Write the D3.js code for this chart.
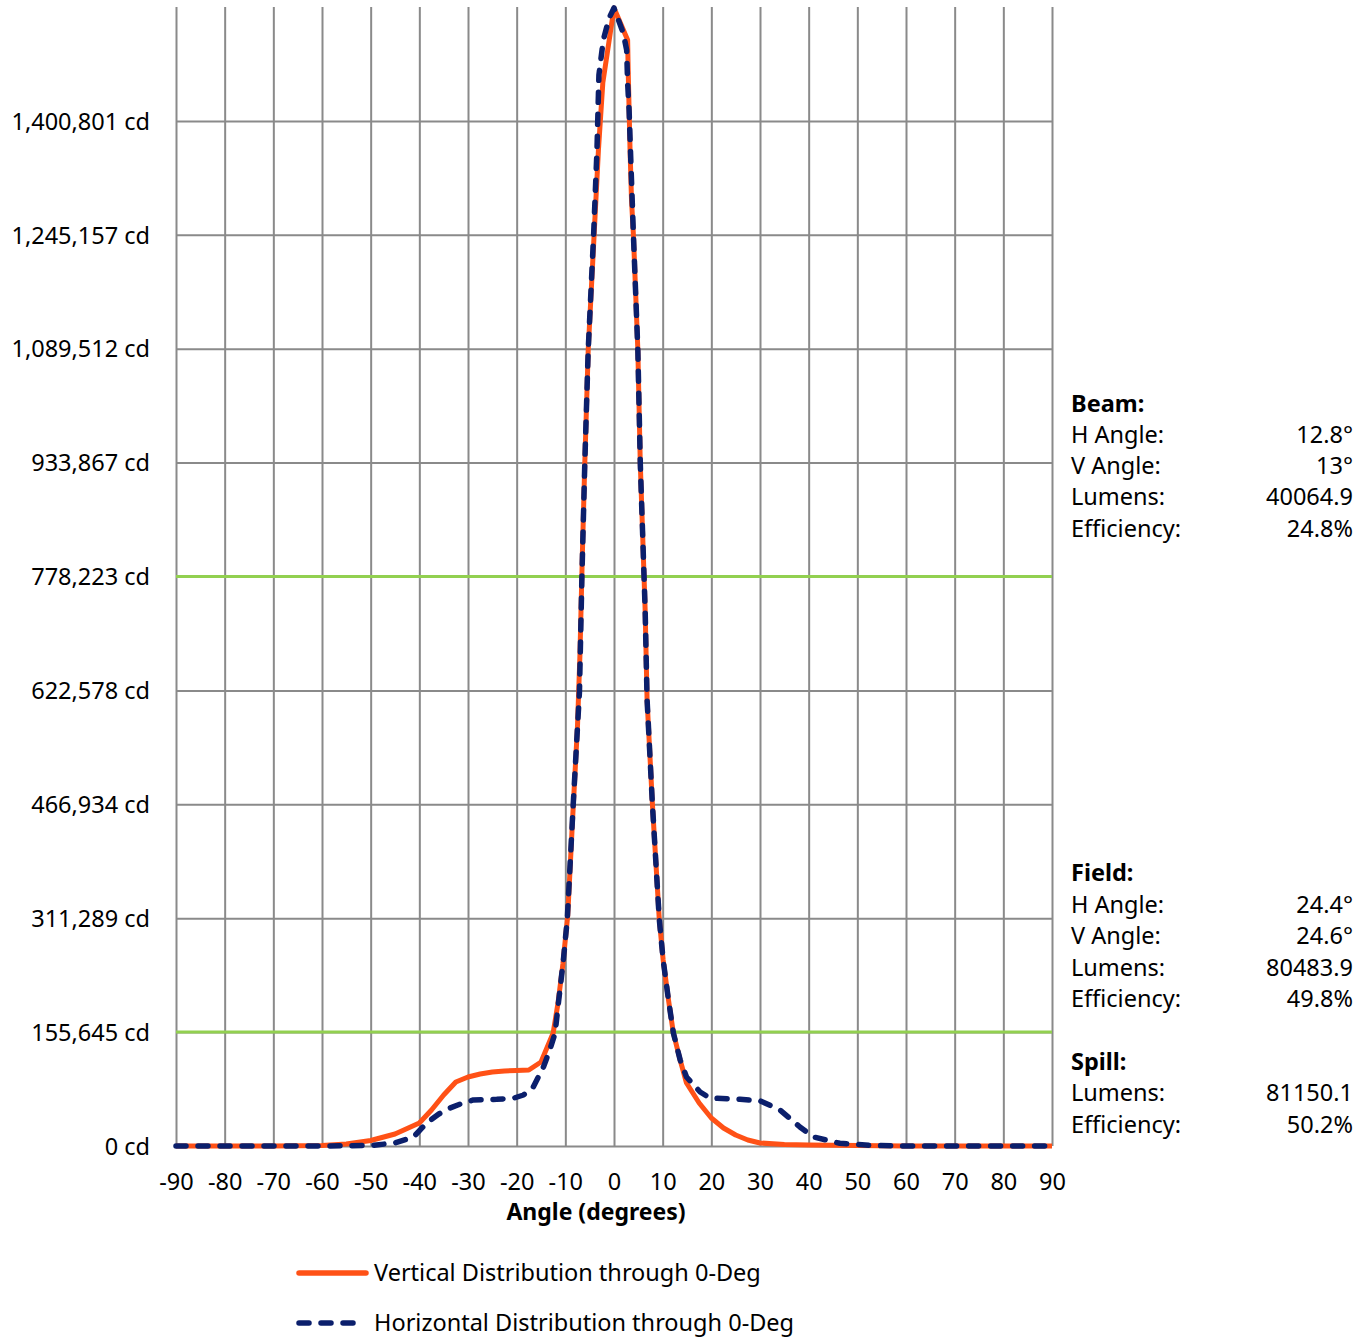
<!DOCTYPE html>
<meta charset="utf-8">
<script src="https://cdn.jsdelivr.net/npm/d3@7"></script>
<style>
  body { margin: 0; background: #fff; }
  text { font-family: "Noto Sans", "Open Sans", sans-serif; fill: #000; }
</style>
<div id="chart"></div>
<script>

// y ticks (cd) and their labels
var yTicks = [0, 155645, 311289, 466934, 622578, 778223, 933867, 1089512, 1245157, 1400801];
var yLabels = ["0 cd", "155,645 cd", "311,289 cd", "466,934 cd", "622,578 cd", "778,223 cd",
               "933,867 cd", "1,089,512 cd", "1,245,157 cd", "1,400,801 cd"];
var yMax = 1556446;
var xTicks = [-90, -80, -70, -60, -50, -40, -30, -20, -10, 0, 10, 20, 30, 40, 50, 60, 70, 80, 90];

// 50% (beam) and 10% (field) levels
var levels = [778223, 155645];

// Vertical Distribution through 0-Deg
var vAngles = [-90, -80, -70, -60, -55, -50, -45, -40, -37.5, -35, -32.5, -30, -27.5, -25, -22.5, -20,
               -17.5, -15, -12.5, -11.5, -10.5, -9.5, -8.5, -7.5, -7, -6.5, -6, -5.3, -4.1, -3.2, -2.3, 0,
               2.8, 2.9, 3.3, 3.6, 4.0, 4.9, 5.4, 6.4, 6.8, 7.9, 9.3, 10.1, 11.2, 12.2, 13.6, 14.9,
               17.5, 20, 22.5, 25, 27.5, 30, 35, 40, 50, 60, 70, 80, 90];
var vValues = [0, 0, 0, 700, 2700, 7500, 16400, 31400, 49200, 69700, 87500, 94300, 98400, 101100, 102500, 103200,
               103900, 114800, 154400, 195400, 248700, 315700, 448200, 574000, 671000, 809000, 933300, 1087700, 1243500, 1361000, 1452600, 1555100,
               1511300, 1474400, 1361000, 1292700, 1243500, 1087700, 933300, 732400, 609500, 466000, 310200, 254200, 199500, 154400, 117500, 86100,
               58800, 38300, 24600, 15000, 8200, 4100, 2000, 1400, 700, 0, 0, 0, 0];

// Horizontal Distribution through 0-Deg
var hAngles = [-90, -80, -70, -60, -50, -45, -41.2, -38.5, -36, -33.7, -31, -28.9, -24.1, -20.7, -18.6, -16.6,
               -14.5, -13.2, -12.1, -11.4, -10.4, -9.6, -8.4, -7.1, -6.6, -6, -5.3, -4.2, -3.5, -3.1, -2.2, -1, 0,
               1.9, 2.6, 2.8, 3.1, 3.5, 4.0, 4.9, 5.4, 6.4, 6.8, 7.9, 9.3, 10.1, 11.2, 12.2, 13.6, 14.9,
               17.7, 19.7, 25.9, 30, 34.1, 38.2, 41, 46.4, 53, 60, 70, 80, 90];
var hValues = [0, 0, 0, 0, 700, 4100, 12300, 31400, 43700, 51900, 58800, 62900, 63800, 65200, 69700, 80600,
               108000, 131200, 154400, 196800, 254200, 310200, 464600, 620400, 776200, 933300, 1087700, 1243500, 1361000, 1463500, 1511300, 1541400, 1555100,
               1520900, 1497700, 1452600, 1415700, 1337800, 1243500, 1087700, 933300, 732400, 609500, 466000, 310200, 254200, 199500, 154400, 117500, 94300,
               73800, 65600, 63800, 61900, 49200, 26000, 12300, 3700, 700, 0, 0, 0, 0];

// text panel on the right
var panel = [
  {label: "Beam:", bold: true, y: 404},
  {label: "H Angle:", value: "12.8°", y: 435},
  {label: "V Angle:", value: "13°", y: 466},
  {label: "Lumens:", value: "40064.9", y: 497},
  {label: "Efficiency:", value: "24.8%", y: 529},
  {label: "Field:", bold: true, y: 873},
  {label: "H Angle:", value: "24.4°", y: 905},
  {label: "V Angle:", value: "24.6°", y: 936},
  {label: "Lumens:", value: "80483.9", y: 968},
  {label: "Efficiency:", value: "49.8%", y: 999},
  {label: "Spill:", bold: true, y: 1062},
  {label: "Lumens:", value: "81150.1", y: 1093},
  {label: "Efficiency:", value: "50.2%", y: 1125}
];

var W = 1369, H = 1338;
var plotL = 176, plotR = 1052, plotT = 7, plotB = 1146;

var svg = d3.select("#chart").append("svg")
  .attr("width", W)
  .attr("height", H);

var x = d3.scaleLinear().domain([-90, 90]).range([plotL, plotR]);
var y = d3.scaleLinear().domain([0, yMax]).range([plotB, plotT]);

var gridColor = "#8a8a8a";
var fs = 23.5;

// x axis with vertical grid lines
var gx = svg.append("g")
  .attr("transform", "translate(0," + plotB + ")")
  .call(d3.axisBottom(x).tickValues(xTicks).tickSize(-(plotB - plotT)).tickFormat(d3.format("d")));
gx.select(".domain").remove();
gx.selectAll("line").attr("stroke", gridColor).attr("stroke-width", 2);
gx.selectAll("text")
  .attr("y", 44).attr("dy", null)
  .style("font-size", fs + "px")
  .text(function(d) { return d < 0 ? "-" + Math.abs(d) : d; });

// y axis with horizontal grid lines
var gy = svg.append("g")
  .attr("transform", "translate(" + plotL + ",0)")
  .call(d3.axisLeft(y).tickValues(yTicks).tickSize(-(plotR - plotL))
        .tickFormat(function(d, i) { return yLabels[i]; }));
gy.select(".domain").remove();
gy.selectAll("line").attr("stroke", gridColor).attr("stroke-width", 2);
gy.selectAll("text")
  .attr("x", -26).attr("dy", "0.35em")
  .style("font-size", fs + "px");

// green beam / field lines
svg.selectAll(".level")
  .data(levels)
  .enter().append("line")
    .attr("x1", plotL).attr("x2", plotR)
    .attr("y1", function(d) { return y(d); })
    .attr("y2", function(d) { return y(d); })
    .attr("stroke", "#92d050")
    .attr("stroke-width", 3);

var line = d3.line()
  .x(function(d) { return x(d[0]); })
  .y(function(d) { return y(d[1]); });

var orange = "#ff5116", navy = "#0b1f6c";

svg.append("path")
  .datum(d3.zip(vAngles, vValues))
  .attr("d", line)
  .attr("fill", "none")
  .attr("stroke", orange)
  .attr("stroke-width", 5)
  .attr("stroke-linejoin", "round");

svg.append("path")
  .datum(d3.zip(hAngles, hValues))
  .attr("d", line)
  .attr("fill", "none")
  .attr("stroke", navy)
  .attr("stroke-width", 5.5)
  .attr("stroke-linecap", "round")
  .attr("stroke-linejoin", "round")
  .attr("stroke-dasharray", "10,12");

// axis title
svg.append("text")
  .attr("x", 596).attr("y", 1220)
  .attr("text-anchor", "middle")
  .style("font-size", "23px")
  .style("font-weight", "bold")
  .text("Angle (degrees)");

// legend
var legend = [
  {name: "Vertical Distribution through 0-Deg", color: orange, dash: null, y: 1273, x2: 366},
  {name: "Horizontal Distribution through 0-Deg", color: navy, dash: "10,12", y: 1323, x2: 360}
];
var lg = svg.selectAll(".lg").data(legend).enter().append("g");
lg.append("line")
  .attr("x1", 299).attr("x2", function(d) { return d.x2; })
  .attr("y1", function(d) { return d.y; }).attr("y2", function(d) { return d.y; })
  .attr("stroke", function(d) { return d.color; })
  .attr("stroke-width", 5.5)
  .attr("stroke-linecap", "round")
  .attr("stroke-dasharray", function(d) { return d.dash; });
lg.append("text")
  .attr("x", 374).attr("y", function(d) { return d.y; })
  .attr("dy", "0.35em")
  .style("font-size", fs + "px")
  .text(function(d) { return d.name; });

// right panel
var pg = svg.selectAll(".panel").data(panel).enter().append("g");
pg.append("text")
  .attr("x", 1071).attr("y", function(d) { return d.y; })
  .attr("dy", "0.35em")
  .style("font-size", fs + "px")
  .style("font-weight", function(d) { return d.bold ? "bold" : "normal"; })
  .text(function(d) { return d.label; });
pg.filter(function(d) { return d.value; }).append("text")
  .attr("x", 1353).attr("y", function(d) { return d.y; })
  .attr("dy", "0.35em")
  .attr("text-anchor", "end")
  .style("font-size", fs + "px")
  .text(function(d) { return d.value; });

</script>
